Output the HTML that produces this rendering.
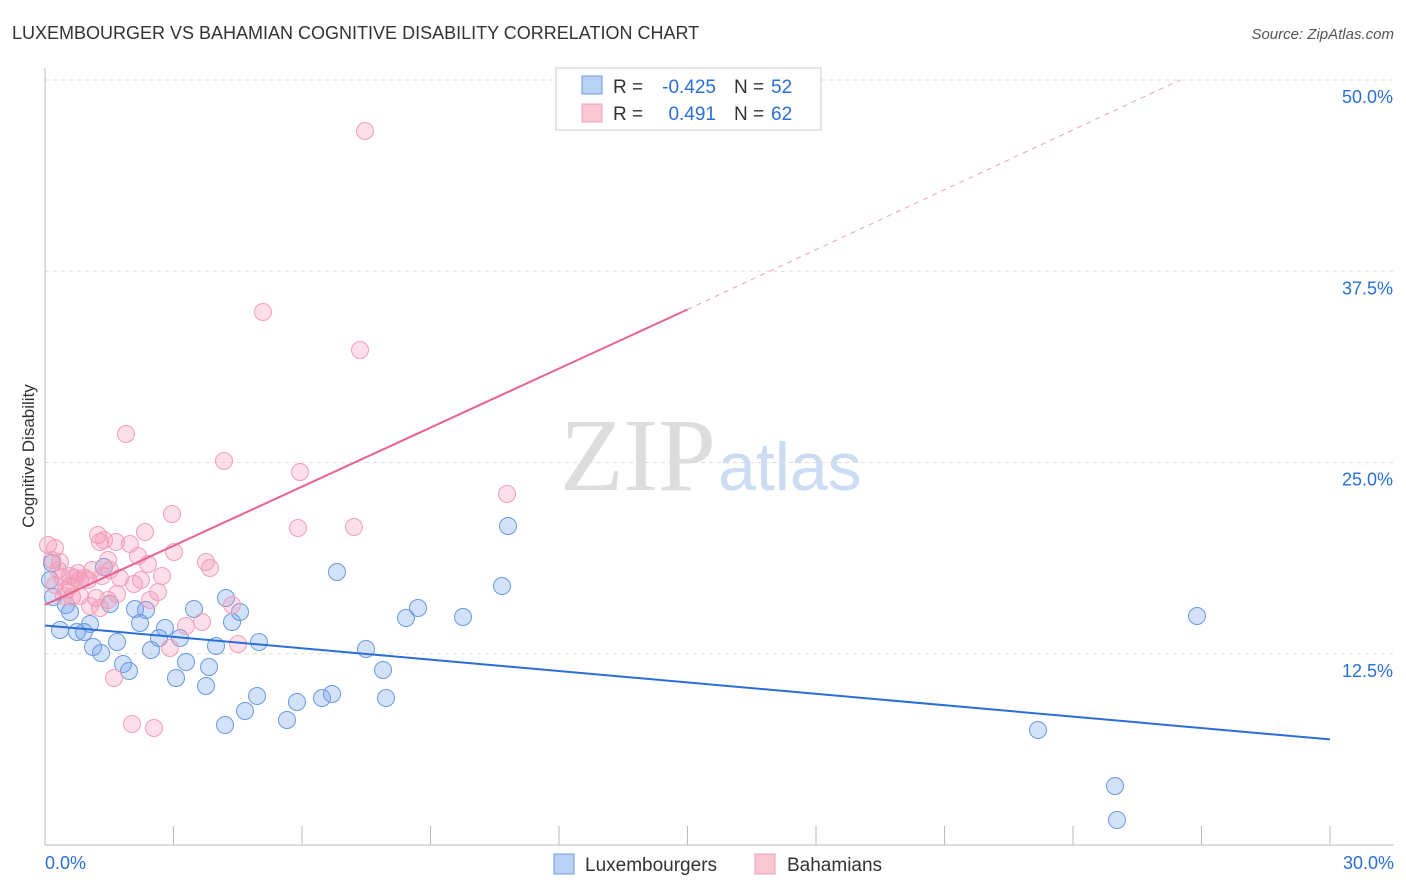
<!DOCTYPE html>
<html><head><meta charset="utf-8"><style>
body{margin:0;background:#fff;font-family:"Liberation Sans",sans-serif}
svg{display:block}
</style></head><body>
<svg id="c" width="1406" height="892">
<text x="12" y="39" font-size="18" fill="#333">LUXEMBOURGER VS BAHAMIAN COGNITIVE DISABILITY CORRELATION CHART</text>
<text x="1394" y="39" font-size="15" fill="#555" font-style="italic" text-anchor="end">Source: ZipAtlas.com</text>
<text x="34" y="456" font-size="17" fill="#333" text-anchor="middle" transform="rotate(-90 34 456)">Cognitive Disability</text>
<text x="716" y="490" font-size="104" fill="#ddd" text-anchor="end" font-family="Liberation Serif,serif">ZIP</text>
<text x="718" y="490" font-size="68" fill="#cbdcf3">atlas</text>
<g id="grid"></g><g id="marks"></g>
<g>
<rect x="556" y="68" width="265" height="62" fill="#fff" stroke="#ccc"/>
<rect x="582" y="76" width="20" height="18" fill="#b9d1f5" stroke="#6a9ae0"/>
<rect x="582" y="104" width="20" height="18" fill="#f9c7d6" stroke="#f0a0b8"/>
<text x="613" y="93" font-size="19" fill="#333">R =</text>
<text x="716" y="93" font-size="19" fill="#2a6fd6" text-anchor="end">-0.425</text>
<text x="734" y="93" font-size="19" fill="#333">N =</text>
<text x="771" y="93" font-size="19" fill="#2a6fd6">52</text>
<text x="613" y="120" font-size="19" fill="#333">R =</text>
<text x="716" y="120" font-size="19" fill="#2a6fd6" text-anchor="end">0.491</text>
<text x="734" y="120" font-size="19" fill="#333">N =</text>
<text x="771" y="120" font-size="19" fill="#2a6fd6">62</text>
</g>
<g>
<rect x="554" y="854" width="20" height="20" fill="#b9d1f5" stroke="#6a9ae0"/>
<text x="585" y="871" font-size="19" fill="#333">Luxembourgers</text>
<rect x="755" y="854" width="20" height="20" fill="#f9c7d6" stroke="#f0a0b8"/>
<text x="787" y="871" font-size="19" fill="#333">Bahamians</text>
</g>
</svg>
<script>
const yTicks=[12.5,25.0,37.5,50.0];
const xTicks=[0,3,6,9,12,15,18,21,24,27,30];
const bluePts=[[52,563],[50,580],[53,597],[60,630],[66,605],[70,612],[77,632],[84,632],[90,624],[93,647],[101,653],[110,604],[104,567],[117,642],[123,664],[129,671],[135,609],[140,623],[146,610],[151,650],[159,638],[165,628],[176,678],[180,638],[186,662],[194,609],[206,686],[209,667],[216,646],[225,725],[226,598],[232,622],[240,612],[245,711],[257,696],[259,642],[287,720],[297,702],[322,698],[332,694],[337,572],[366,649],[383,670],[386,698],[406,618],[418,608],[463,617],[502,586],[508,526],[1038,730],[1115,786],[1117,820],[1197,616]];
const pinkPts=[[48,545],[52,560],[55,548],[58,570],[62,577],[66,590],[70,586],[72,597],[75,578],[80,580],[85,578],[88,580],[92,570],[96,598],[98,535],[100,542],[104,540],[108,560],[110,570],[114,678],[117,594],[120,578],[126,434],[130,544],[132,724],[134,584],[138,556],[141,580],[145,532],[148,564],[154,728],[158,592],[162,576],[170,648],[172,514],[174,552],[186,626],[202,622],[206,562],[210,568],[224,461],[232,605],[238,644],[263,312],[298,528],[300,472],[354,527],[360,350],[365,131],[507,494],[108,600],[90,606],[60,562],[70,576],[100,608],[80,596],[64,596],[116,542],[150,600],[55,585],[102,576],[78,573]];
const blueX=bluePts.map(p=>(p[0]-45)/1285*30), blueY=bluePts.map(p=>(845-p[1])/765*50);
const pinkX=pinkPts.map(p=>(p[0]-45)/1285*30), pinkY=pinkPts.map(p=>(845-p[1])/765*50);
const blueLine=[[0,14.35],[30,6.9]];
const pinkLine=[[0,15.7],[15,35.0],[26.5,50.0]];
const X=v=>45+v/30*1285, Y=v=>845-v/50*765;
const ns="http://www.w3.org/2000/svg";
function mk(t,a,parent){const e=document.createElementNS(ns,t);for(const k in a)e.setAttribute(k,a[k]);parent.appendChild(e);return e;}
const g=document.getElementById('grid'), m=document.getElementById('marks');
yTicks.forEach(v=>{
 const l=mk('line',{x1:45,x2:1394,y1:Y(v),y2:Y(v),stroke:'#ddd','stroke-dasharray':'4 4'},g);
 
 
 const t=mk('text',{x:1393,y:Y(v)+23,'font-size':18,fill:'#2a6fd6','text-anchor':'end'},g);t.textContent=v.toFixed(1)+'%';
 
 
});
mk('line',{x1:45,x2:1394,y1:845,y2:845,stroke:'#bbb'},g);
mk('line',{x1:45,x2:45,y1:68,y2:845,stroke:'#bbb'},g);
xTicks.forEach(v=>{const l=mk('line',{x1:X(v),x2:X(v),y1:826,y2:845,stroke:'#bbb'},g);
 
 });
[[0,'0.0%','start',45],[30,'30.0%','end',1394]].forEach(d=>{const t=mk('text',{x:d[3],y:869,'font-size':18,fill:'#2a6fd6','text-anchor':d[2]},g);t.textContent=d[1];
 
 });
blueX.forEach((x,i)=>{const c=mk('circle',{cx:X(x),cy:Y(blueY[i]),r:8.5,fill:'rgba(110,160,235,0.3)',stroke:'#6a9ae0','stroke-width':1},m);
 
 });
pinkX.forEach((x,i)=>{const c=mk('circle',{cx:X(x),cy:Y(pinkY[i]),r:8.5,fill:'rgba(245,150,180,0.3)',stroke:'#f0a0b8','stroke-width':1},m);
 
 });
const bl=mk('line',{x1:X(blueLine[0][0]),y1:Y(blueLine[0][1]),x2:X(blueLine[1][0]),y2:Y(blueLine[1][1]),stroke:'#2a6fd6','stroke-width':2},m);


const pl=mk('line',{x1:X(pinkLine[0][0]),y1:Y(pinkLine[0][1]),x2:X(pinkLine[1][0]),y2:Y(pinkLine[1][1]),stroke:'#e8648e','stroke-width':2},m);


const pd=mk('line',{x1:X(pinkLine[1][0]),y1:Y(pinkLine[1][1]),x2:X(pinkLine[2][0]),y2:Y(pinkLine[2][1]),stroke:'#f0a0b8','stroke-width':1,'stroke-dasharray':'5 5'},m);


</script>
</body></html>
